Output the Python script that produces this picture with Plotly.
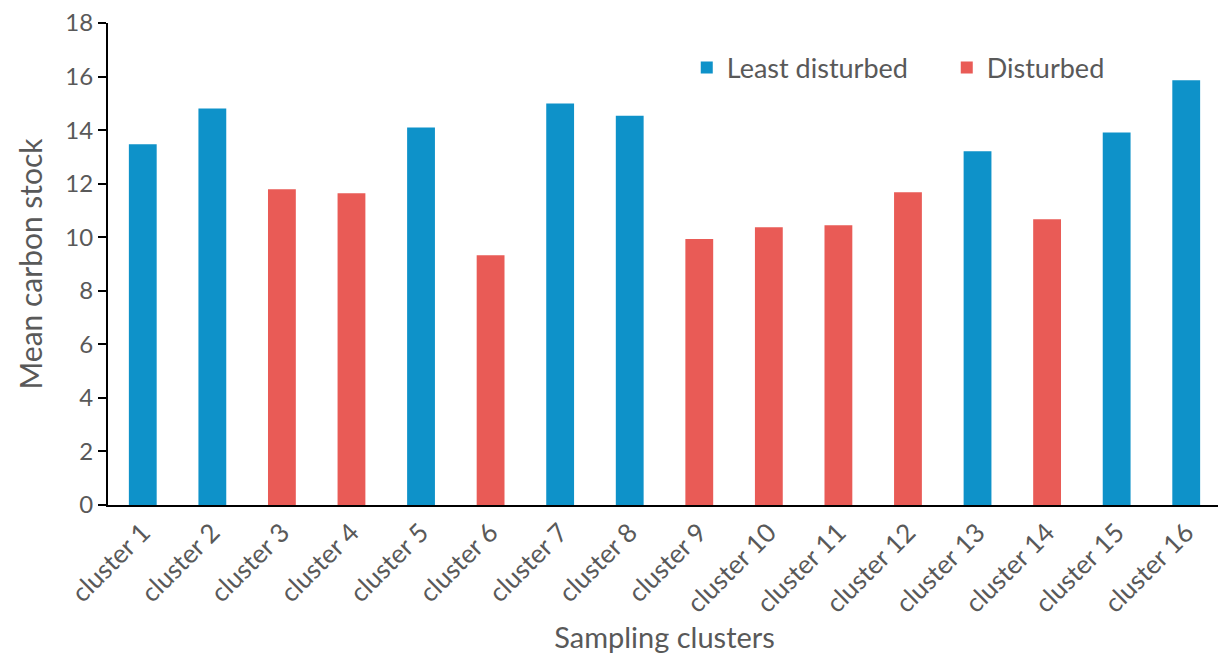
import plotly.graph_objects as go

clusters = [f"cluster {i}" for i in range(1, 17)]
values = [13.47, 14.81, 11.79, 11.64, 14.10, 9.33, 14.99, 14.54,
          9.93, 10.37, 10.45, 11.68, 13.21, 10.67, 13.91, 15.86]
status = ["Least disturbed", "Least disturbed", "Disturbed", "Disturbed",
          "Least disturbed", "Disturbed", "Least disturbed", "Least disturbed",
          "Disturbed", "Disturbed", "Disturbed", "Disturbed",
          "Least disturbed", "Disturbed", "Least disturbed", "Least disturbed"]
y_ticks = list(range(0, 19, 2))

colors = {"Least disturbed": "#0E92C9", "Disturbed": "#E95B56"}
font_family = "Lato, Open Sans, sans-serif"
gray = "#595959"

fig = go.Figure()
for grp in ["Least disturbed", "Disturbed"]:
    xs = [c for c, s in zip(clusters, status) if s == grp]
    ys = [v for v, s in zip(values, status) if s == grp]
    fig.add_trace(go.Bar(x=xs, y=ys, name=grp, marker_color=colors[grp],
                         marker_line_width=0))

fig.update_layout(
    width=1218, height=651,
    barmode="overlay",
    bargap=0.6,
    plot_bgcolor="white", paper_bgcolor="white",
    margin=dict(l=100, r=5, t=15, b=154, autoexpand=False),
    font=dict(family=font_family, size=22, color=gray),
    legend=dict(orientation="h", x=0.52, y=0.907, xanchor="left", yanchor="middle",
                font=dict(size=27, color=gray), itemwidth=30,
                entrywidth=215, bgcolor="rgba(0,0,0,0)"),
)
fig.update_xaxes(
    type="category", categoryorder="array", categoryarray=clusters,
    tickangle=-45, showline=True, linecolor="black", linewidth=2,
    ticks="", tickfont=dict(size=26, color=gray),
    title=dict(text="Sampling clusters", font=dict(size=29, color=gray), standoff=4),
)
fig.update_yaxes(
    range=[0, 18.001], tickvals=y_ticks, showgrid=False, zeroline=False,
    showline=True, linecolor="black", linewidth=2,
    ticks="outside", ticklen=8, tickwidth=2, tickcolor="black",
    ticklabeloverflow="allow",
    tickfont=dict(size=24, color=gray),
    title=dict(text="Mean carbon stock", font=dict(size=30, color=gray), standoff=14),
)

fig.write_html("out.html")
